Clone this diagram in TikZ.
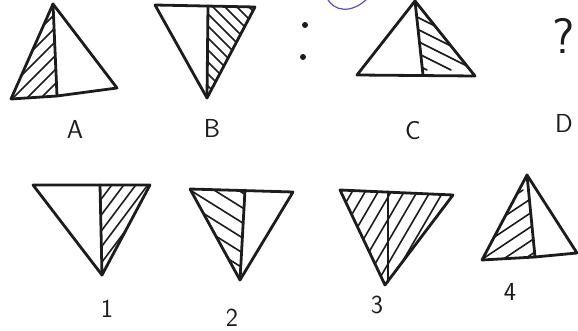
\documentclass[tikz,border=0pt]{standalone}
\usepackage{tikz}
\usetikzlibrary{calc}
\definecolor{Ink}{HTML}{1C1C1C}
\definecolor{PenBlue}{HTML}{5A4FD0}

\begin{document}
\begin{tikzpicture}[x=1pt,y=-1pt,
  tri/.style={draw=Ink,line width=2.8pt,line join=round,line cap=round},
  hatch/.style={draw=Ink,line width=1.6pt,line cap=round},
  lbl/.style={font=\sffamily\fontsize{26}{30}\selectfont,text=Ink,inner sep=0pt},
  dot/.style={circle,fill=Ink,inner sep=0pt,minimum size=6pt}
]
\useasboundingbox (0,0) rectangle (578,331);

% --- top row: A
\coordinate (aT) at (53,4);
\coordinate (aL) at (11,99);
\coordinate (aR) at (117,88);
\coordinate (aM) at (57,96);
\begin{scope}
  \clip (aT) -- (aL) -- (aM) -- cycle;
  \foreach \s in {-97,-83,...,48} \draw[hatch] (\s,110) -- ++(120,-120);
\end{scope}
\draw[tri] (aT) -- (aL) -- (aM) -- (aR) -- cycle;
\draw[tri] (aT) -- (aM);

% --- B
\coordinate (bL) at (155,5);
\coordinate (bR) at (255,7);
\coordinate (bB) at (207,98);
\coordinate (bM) at (208,6);
\begin{scope}
  \clip (bM) -- (bR) -- (bB) -- cycle;
  \foreach \s in {100,112,...,240} \draw[hatch] (\s,-10) -- ++(120,120);
\end{scope}
\draw[tri] (bL) -- (bR) -- (bB) -- cycle;
\draw[tri] (bM) -- (bB);

% --- colon
\node[dot] (c1) at (305,25) {};
\node[dot] (c2) at (303,57) {};

% --- stray pen mark
\draw[PenBlue,line width=1.2pt] (327,-2) .. controls (334,12) and (352,14) .. (368,-2);

% --- C
\coordinate (cT) at (415,1);
\coordinate (cL) at (357,75);
\coordinate (cR) at (475,76);
\coordinate (cM) at (423,75);
\begin{scope}
  \clip (cT) -- (cM) -- (cR) -- cycle;
  \foreach \s in {243,267,...,460} \draw[hatch] (\s,-10) -- ++(160,80);
\end{scope}
\draw[tri] (cT) -- (cL) -- (cR) -- cycle;
\draw[tri] (cT) -- (cM);

\node[font=\sffamily\fontsize{50}{52}\selectfont,text=Ink,inner sep=0pt] (qm) at (564,36) {?};

\node[lbl] (la) at (75,129) {A};
\node[lbl] (lb) at (212,128) {B};
\node[lbl] (lc) at (413,131) {C};
\node[lbl] (ld) at (564,123) {D};

% --- bottom row: 1
\coordinate (pL) at (33,185);
\coordinate (pR) at (150,185);
\coordinate (pB) at (102,275);
\coordinate (pM) at (100,185);
\begin{scope}
  \clip (pM) -- (pR) -- (pB) -- cycle;
  \foreach \s in {21,33,...,140} \draw[hatch] (\s,290) -- ++(90,-120);
\end{scope}
\draw[tri] (pL) -- (pR) -- (pB) -- cycle;
\draw[tri] (pM) -- (pB);

% --- 2
\coordinate (qL) at (190,189);
\coordinate (qR) at (293,192);
\coordinate (qB) at (240,280);
\coordinate (qM) at (245,190);
\begin{scope}
  \clip (qL) -- (qM) -- (qB) -- cycle;
  \foreach \s in {14,38,...,216} \draw[hatch] (\s,170) -- ++(160,100);
\end{scope}
\draw[tri] (qL) -- (qR) -- (qB) -- cycle;
\draw[tri] (qM) -- (qB);

% --- 3
\coordinate (rL) at (340,190);
\coordinate (rR) at (453,195);
\coordinate (rB) at (385,285);
\coordinate (rM) at (388,192);
\begin{scope}
  \clip (rL) -- (rR) -- (rB) -- cycle;
  \foreach \s in {276,289,...,445} \draw[hatch] (\s,300) -- ++(70,-120);
\end{scope}
\draw[tri] (rL) -- (rR) -- (rB) -- cycle;
\draw[tri] (rM) -- (388,282);

% --- 4
\coordinate (sT) at (527,175);
\coordinate (sL) at (482,260);
\coordinate (sR) at (577,253);
\coordinate (sM) at (535,257);
\begin{scope}
  \clip (sT) -- (sL) -- (sM) -- cycle;
  \foreach \s in {340,361,...,521} \draw[hatch] (\s,270) -- ++(120,-80);
\end{scope}
\draw[tri] (sT) -- (sL) -- (sM) -- (sR) -- cycle;
\draw[tri] (sT) -- (sM);

\node[lbl] (l1) at (107,309) {1};
\node[lbl] (l2) at (232,318) {2};
\node[lbl] (l3) at (377,305) {3};
\node[lbl] (l4) at (510,292) {4};
\end{tikzpicture}
\end{document}
